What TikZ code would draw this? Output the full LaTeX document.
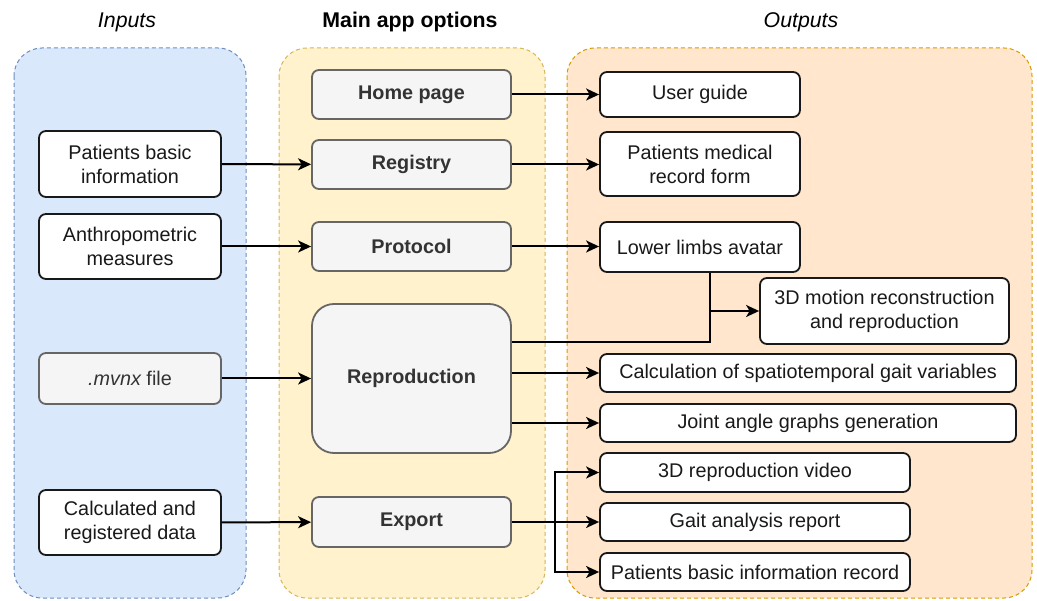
\documentclass[tikz,border=0pt]{standalone}
\usepackage{fontspec}
\setmainfont{Liberation Sans}
\usetikzlibrary{calc}
\usetikzlibrary{arrows.meta}
\definecolor{inputsfill}{HTML}{DAE8FC}
\definecolor{inputsline}{HTML}{6C8EBF}
\definecolor{mainfill}{HTML}{FFF2CC}
\definecolor{mainline}{HTML}{D6B656}
\definecolor{outputsfill}{HTML}{FFE6CC}
\definecolor{outputsline}{HTML}{D79B00}
\definecolor{optfill}{HTML}{F5F5F5}
\definecolor{optline}{HTML}{666666}
\definecolor{opttext}{HTML}{333333}
\def\BoxFont{\fontsize{19.8}{24}\selectfont}
\def\TitleFont{\fontsize{21.3}{25}\selectfont}
\def\InX{130}
\def\MainX{411.5}
\def\OutX{700}

\begin{document}
\begin{tikzpicture}[x=1pt,y=-1pt,
  panel/.style={rounded corners=28pt, dash pattern=on 4pt off 3pt, line width=1pt},
  plainbox/.style={draw=black!90, fill=white, line width=1.8pt, rounded corners=7pt,
    align=center, inner sep=0pt, font=\BoxFont, text=black!90},
  optbox/.style={draw=optline, fill=optfill, line width=1.8pt, rounded corners=7pt,
    align=center, inner sep=0pt, font=\BoxFont\bfseries, text=opttext},
  arr/.style={line width=2pt, -{Stealth[length=13pt,width=12pt,inset=3.5pt]}},
  link/.style={line width=2pt}]
  \useasboundingbox (0,0) rectangle (1037,601);
  % panels
  \filldraw [panel, fill=inputsfill, draw=inputsline] (14,48) rectangle (246,598);
  \filldraw [panel, fill=mainfill, draw=mainline] (279,48) rectangle (545,598);
  \filldraw [panel, fill=outputsfill, draw=outputsline] (567,48) rectangle (1032,598);
  % titles
  \node [font=\TitleFont\itshape] (tin) at (127,22) {Inputs};
  \node [font=\TitleFont\bfseries] (tmain) at (410,22) {Main app options};
  \node [font=\TitleFont\itshape] (tout) at (801,22) {Outputs};
  % inputs
  \node [plainbox, minimum width=182pt, minimum height=66pt] (basic) at (\InX,164) {Patients basic\\information};
  \node [plainbox, minimum width=182pt, minimum height=65pt] (anthro) at (\InX,246.5) {Anthropometric\\measures};
  \node [optbox, font=\BoxFont, minimum width=182pt, minimum height=51pt] (mvnx) at (\InX,378.5) {{\itshape .mvnx} file};
  \node [plainbox, minimum width=182pt, minimum height=65pt] (calcdata) at (\InX,522.5) {Calculated and\\registered data};
  % main app options
  \node [optbox, minimum width=199pt, minimum height=49pt] (home) at (\MainX,94.5) {Home page};
  \node [optbox, minimum width=199pt, minimum height=49pt] (registry) at (\MainX,164.5) {Registry};
  \node [optbox, minimum width=199pt, minimum height=49pt] (protocol) at (\MainX,246.5) {Protocol};
  \node [optbox, rounded corners=22pt, minimum width=199pt, minimum height=149pt] (repro) at (\MainX,378.5) {Reproduction};
  \node [optbox, minimum width=199pt, minimum height=50pt] (export) at (\MainX,522) {Export};
  % outputs
  \node [plainbox, minimum width=200pt, minimum height=45pt] (guide) at (\OutX,94.5) {User guide};
  \node [plainbox, minimum width=200pt, minimum height=64pt] (medical) at (\OutX,164) {Patients medical\\record form};
  \node [plainbox, minimum width=200pt, minimum height=50pt] (avatar) at (\OutX,247) {Lower limbs avatar};
  \node [plainbox, minimum width=249pt, minimum height=66pt] (motion) at (884.5,311) {3D motion reconstruction\\and reproduction};
  \node [plainbox, minimum width=416pt, minimum height=38pt] (gaitvars) at (808,373) {Calculation of spatiotemporal gait variables};
  \node [plainbox, minimum width=416pt, minimum height=38pt] (angles) at (808,423) {Joint angle graphs generation};
  \node [plainbox, minimum width=310pt, minimum height=39pt] (video) at (755,472.5) {3D reproduction video};
  \node [plainbox, minimum width=310pt, minimum height=38pt] (report) at (755,522) {Gait analysis report};
  \node [plainbox, minimum width=310pt, minimum height=38pt] (record) at (755,572) {Patients basic information record};
  % junctions
  \coordinate (joinpt) at (710,342);
  \coordinate (split) at (555,522);
  % connectors
  \draw [arr] (basic) -- (registry);
  \draw [arr] (anthro) -- (protocol);
  \draw [arr] (mvnx) -- (repro);
  \draw [arr] (calcdata) -- (export);
  \draw [arr] (home) -- (guide);
  \draw [arr] (registry.east) -- (registry.east -| medical.west);
  \draw [arr] (protocol.east) -- (protocol.east -| avatar.west);
  \draw [link] (repro.east |- joinpt) -- (joinpt) -- (avatar.south -| joinpt);
  \draw [arr] (joinpt |- motion.west) -- (motion.west);
  \draw [arr] (repro.east |- gaitvars.west) -- (gaitvars.west);
  \draw [arr] (repro.east |- angles.west) -- (angles.west);
  \foreach \out in {video,report,record}
    {
      \draw [arr] (export.east) -- (split) |- (\out.west);
    }
\end{tikzpicture}
\end{document}
